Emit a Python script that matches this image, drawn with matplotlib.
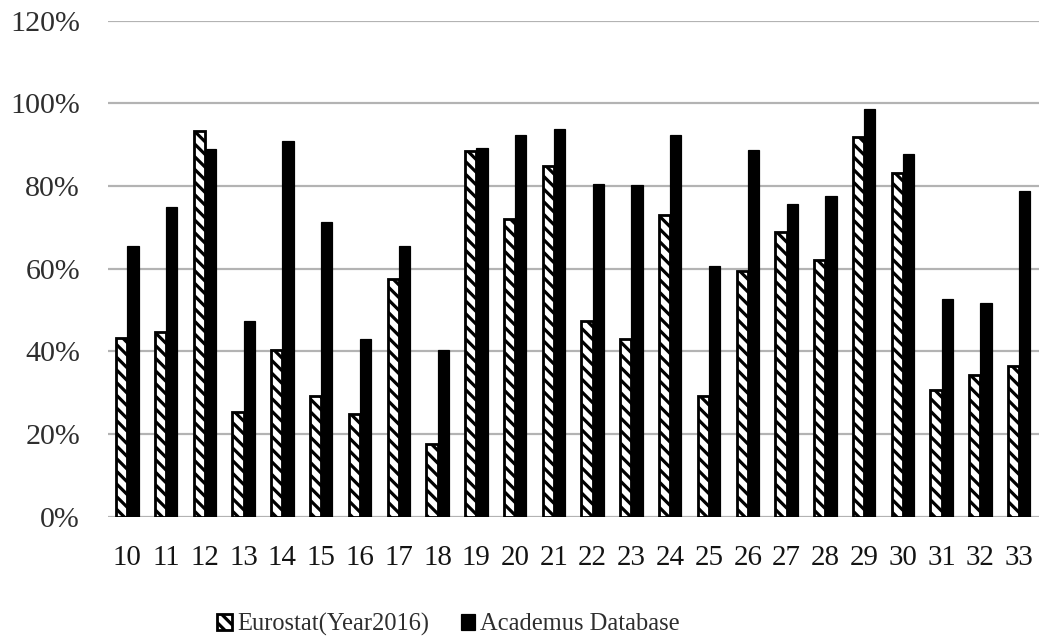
import matplotlib.pyplot as plt
import numpy as np
from matplotlib.ticker import FuncFormatter

sectors = ['10', '11', '12', '13', '14', '15', '16', '17', '18', '19', '20', '21',
           '22', '23', '24', '25', '26', '27', '28', '29', '30', '31', '32', '33']
eurostat = [43.3, 44.7, 93.3, 25.2, 40.2, 29.3, 24.8, 57.5, 17.6, 88.5, 71.9, 84.8,
            47.4, 42.9, 73.0, 29.3, 59.4, 68.8, 62.1, 91.8, 83.1, 30.7, 34.2, 36.5]
academus = [65.5, 75.0, 88.9, 47.4, 90.9, 71.2, 42.9, 65.5, 40.3, 89.2, 92.3, 93.8,
            80.5, 80.2, 92.3, 60.6, 88.8, 75.7, 77.6, 98.7, 87.8, 52.6, 51.6, 78.8]

# low dpi so the hatch tile (one inch) gives a tighter stripe spacing
DPI = 76


def px(v):
    # pixels -> points at the chosen dpi
    return v * 72.0 / DPI


plt.rcParams['font.family'] = ['Liberation Serif', 'DejaVu Serif']
plt.rcParams['hatch.linewidth'] = px(3.2)
plt.rcParams['hatch.color'] = 'black'

fig = plt.figure(figsize=[1041 / DPI, 641 / DPI], dpi=DPI)
ax = fig.add_axes([0.1037, 0.194, 0.894, 0.774])

x = np.arange(len(sectors))
w = 0.29
ax.bar(x - w / 2, eurostat, w, facecolor='white', edgecolor='black', linewidth=px(2.8),
       hatch='\\\\', label='Eurostat(Year2016)', zorder=3)
ax.bar(x + w / 2, academus, w, facecolor='black', edgecolor='black', linewidth=px(1.2),
       label='Academus Database', zorder=3)

ax.set_xlim(-0.5, len(sectors) - 0.5)
ax.set_ylim(0, 120)
ax.set_yticks(np.arange(0, 121, 20))
ax.yaxis.set_major_formatter(FuncFormatter(lambda v, p: '%d%%' % v))
ax.set_xticks(x)
ax.set_xticklabels(sectors)
ax.grid(axis='y', color='#b3b3b3', linewidth=px(2.2), zorder=0)
for s in ['top', 'right', 'left', 'bottom']:
    ax.spines[s].set_visible(False)
ax.tick_params(axis='x', length=0, labelsize=px(29), colors='#141414', pad=px(28))
ax.tick_params(axis='y', length=0, labelsize=px(30), colors='#2e2e2e', pad=px(28))

fig.legend(loc='center', bbox_to_anchor=(0.431, 0.026), ncol=2, frameon=False,
           fontsize=px(24.5), handlelength=0.6, handleheight=0.6, handletextpad=0.2,
           columnspacing=1.3, labelcolor='#2e2e2e')

fig.savefig('out.png', dpi=DPI)
